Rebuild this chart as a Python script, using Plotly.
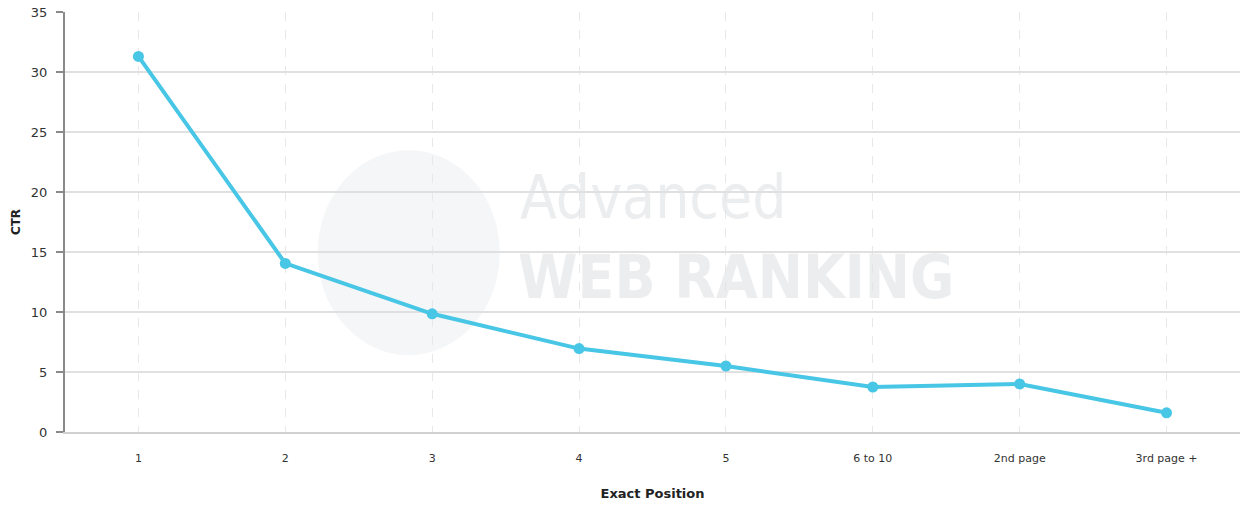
import plotly.graph_objects as go

categories = ["1", "2", "3", "4", "5", "6 to 10", "2nd page", "3rd page +"]
ctr_values = [31.3, 14.05, 9.85, 6.95, 5.5, 3.75, 4.0, 1.6]
y_ticks = [0, 5, 10, 15, 20, 25, 30, 35]

FONT = "DejaVu Sans, Verdana, sans-serif"
LINE_COLOR = "#48c6e5"
WM = "rgba(222,225,229,0.6)"
WM_FONT = "DejaVu Sans Condensed, Roboto, sans-serif"

fig = go.Figure()
fig.add_trace(go.Scatter(
    x=categories, y=ctr_values, mode="lines+markers",
    line=dict(color=LINE_COLOR, width=4),
    marker=dict(color=LINE_COLOR, size=11),
    showlegend=False,
))

# watermark
fig.add_shape(type="circle", xref="paper", yref="paper",
              x0=0.215, x1=0.370, y0=0.183, y1=0.671,
              fillcolor="rgba(236,238,241,0.5)", line=dict(width=0), layer="below")
fig.add_annotation(text="Advanced", xref="paper", yref="paper", x=0.501, y=0.56,
                   xanchor="center", yanchor="middle", showarrow=False,
                   font=dict(family=WM_FONT, size=60, weight=300, color=WM))
fig.add_annotation(text="WEB RANKING", xref="paper", yref="paper", x=0.571, y=0.37,
                   xanchor="center", yanchor="middle", showarrow=False,
                   font=dict(family=WM_FONT, size=60, weight="bold", color=WM))

fig.update_layout(
    width=1246, height=506,
    margin=dict(l=65, r=6, t=12, b=74),
    paper_bgcolor="white", plot_bgcolor="white",
    font=dict(family=FONT, size=12, color="#333333"),
    xaxis=dict(
        type="category", range=[-0.5, 7.5],
        showgrid=True, gridcolor="#e8e8e8", griddash="dash", gridwidth=1,
        showline=True, linecolor="#d0d0d0", linewidth=2,
        ticks="", ticklabelstandoff=15, tickfont=dict(size=11, color="#333333"),
        title=dict(text="<b>Exact Position</b>", font=dict(size=13, color="#222222"), standoff=25),
    ),
    yaxis=dict(
        range=[0, 35], tickvals=y_ticks,
        showgrid=True, gridcolor="#e0e0e0", gridwidth=2,
        showline=True, linecolor="#8a8a8a", linewidth=2,
        ticks="outside", ticklen=7, tickcolor="#8a8a8a", tickwidth=2,
        ticklabelstandoff=6, ticklabeloverflow="allow",
        tickfont=dict(size=13, color="#333333"),
        zeroline=False,
        title=dict(text="<b>CTR</b>", font=dict(size=12, color="#222222"), standoff=8),
    ),
)

fig.write_html("out.html", config={"displayModeBar": False},
               post_script="document.body.style.margin='0';")
